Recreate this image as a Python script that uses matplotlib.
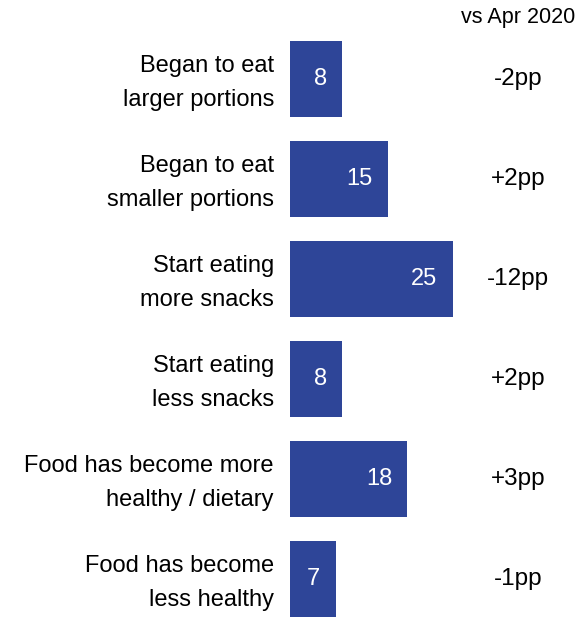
import matplotlib
matplotlib.use('Agg')
import matplotlib.pyplot as plt
import matplotlib.transforms as mtrans

categories = ['Began to eat\nlarger portions', 'Began to eat\nsmaller portions',
              'Start eating\nmore snacks', 'Start eating\nless snacks',
              'Food has become more\nhealthy / dietary', 'Food has become\nless healthy']
values = [8, 15, 25, 8, 18, 7]
changes = ['-2pp', '+2pp', '-12pp', '+2pp', '+3pp', '-1pp']

plt.rcParams['font.family'] = ['Liberation Sans', 'DejaVu Sans']

W, H = 580, 620
fig = plt.figure(figsize=(W / 100, H / 100), dpi=100)
px_per_unit = 6.5
ax = fig.add_axes([290 / W, 0, (W - 290) / W, (620 - 29) / H])
ax.set_xlim(0, (W - 290) / px_per_unit)
ax.set_ylim(5 + (620 - 579) / 100, -0.5)
ax.axis('off')

blue = '#2e4598'
ypos = range(len(values))
ax.barh(ypos, values, height=0.76, color=blue)

# labels sit a little lower than the bar centre
off_lab = mtrans.offset_copy(ax.transData, fig=fig, x=-16, y=-4, units='dots')
off_val = mtrans.offset_copy(ax.transData, fig=fig, x=-15, y=0, units='dots')
for y, lab, v, c in zip(ypos, categories, values, changes):
    ax.text(0, y, lab, transform=off_lab, ha='right', va='center',
            fontsize=17, linespacing=1.75, color='black', clip_on=False)
    ax.text(v, y, str(v), transform=off_val, ha='right', va='center',
            fontsize=17, color='white')
    ax.text(35.1, y, c, ha='center', va='center', fontsize=17.5, color='black')

fig.text(518 / W, 1 - 17 / H, 'vs Apr 2020', ha='center', va='center',
         fontsize=15.5, color='black')

fig.savefig('out.png', dpi=100)
